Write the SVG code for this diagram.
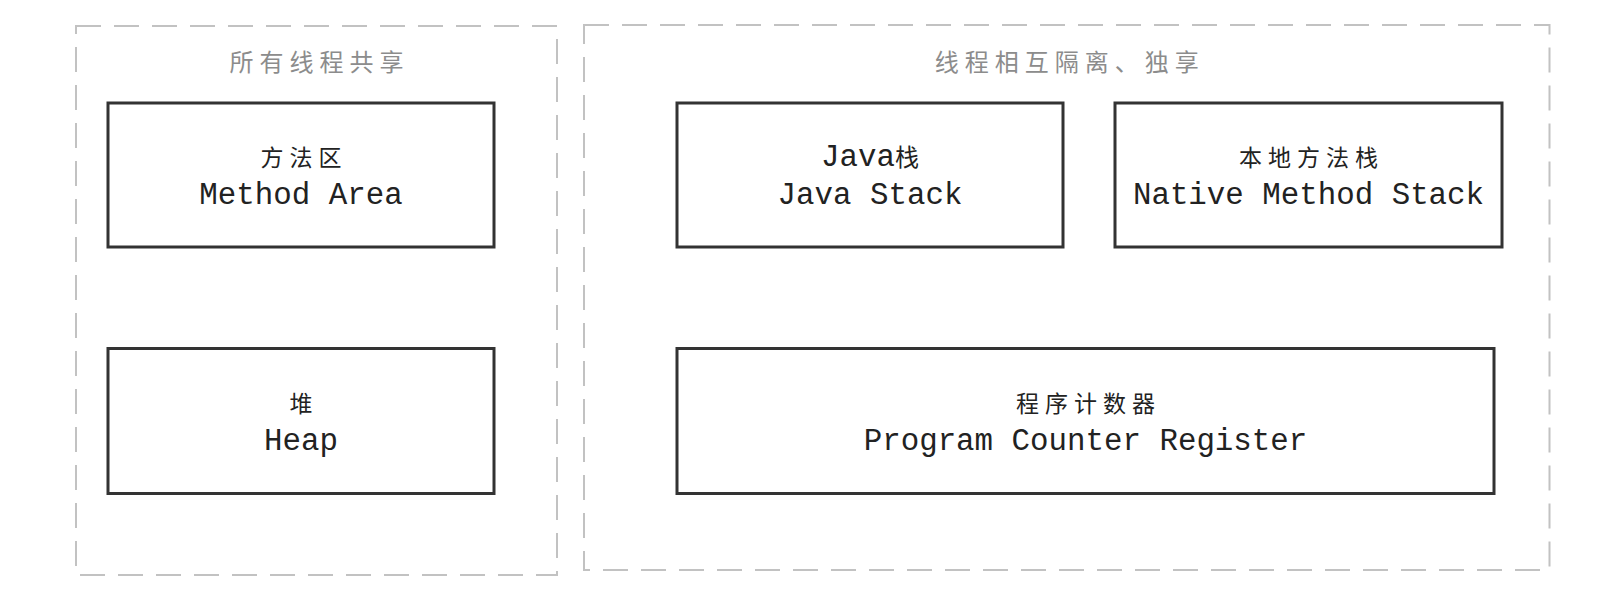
<svg xmlns="http://www.w3.org/2000/svg" width="1618" height="606" viewBox="0 0 1618 606">
<style>
.bg{fill:#ffffff}
.group{fill:none;stroke:#c2c2c2;stroke-width:2;stroke-dasharray:25 13}
.box{fill:#ffffff;stroke:#333333;stroke-width:3}
.title{font-family:"Noto Sans CJK SC","Liberation Sans",sans-serif;font-size:24px;fill:#8c8c8c;letter-spacing:6px;text-anchor:middle}
.zh{font-family:"Liberation Mono","Noto Sans CJK SC",monospace;font-size:23px;fill:#222222;letter-spacing:6px;text-anchor:middle}
.en{font-family:"Liberation Mono","Noto Sans CJK SC",monospace;font-size:30.8px;fill:#222222;text-anchor:middle}
.mix{font-family:"Liberation Mono","Noto Sans CJK SC",monospace;font-size:30.8px;fill:#222222;text-anchor:middle}
</style>
<rect class="bg" x="0" y="0" width="1618" height="606"/>
<g id="shared-group">
<rect class="group" x="76" y="26" width="481" height="549"/>
<text class="title" x="319.5" y="71">所有线程共享</text>
</g>
<g id="private-group">
<rect class="group" x="584" y="25" width="965.5" height="545"/>
<text class="title" x="1069.75" y="71">线程相互隔离、独享</text>
</g>
<g id="method-area">
<rect class="box" x="108" y="103" width="386" height="144"/>
<text class="zh" x="304" y="166">方法区</text>
<text class="en" x="301" y="204">Method Area</text>
</g>
<g id="heap">
<rect class="box" x="108" y="348.5" width="386" height="145"/>
<text class="zh" x="304" y="411.5">堆</text>
<text class="en" x="301" y="450">Heap</text>
</g>
<g id="java-stack">
<rect class="box" x="677" y="103" width="386" height="144"/>
<text class="mix" x="870" y="166">Java<tspan font-size="24px">栈</tspan></text>
<text class="en" x="870" y="204">Java Stack</text>
</g>
<g id="native-method-stack">
<rect class="box" x="1115" y="103" width="387" height="144"/>
<text class="zh" x="1311.5" y="166">本地方法栈</text>
<text class="en" x="1308.5" y="204">Native Method Stack</text>
</g>
<g id="program-counter-register">
<rect class="box" x="677" y="348.5" width="817" height="145"/>
<text class="zh" x="1088.5" y="411.5">程序计数器</text>
<text class="en" x="1085.5" y="450">Program Counter Register</text>
</g>
<g id="connectors"></g>
</svg>
